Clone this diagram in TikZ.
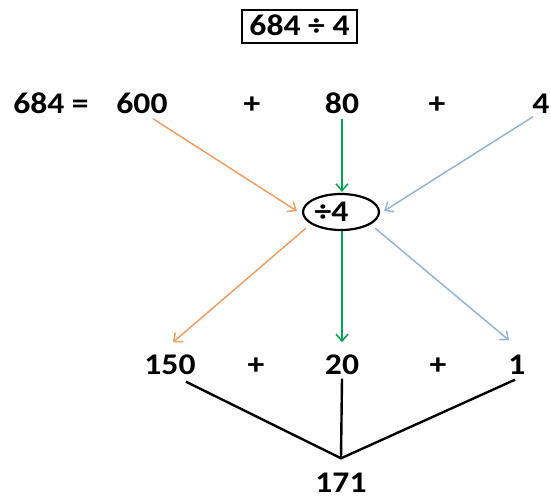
\documentclass[tikz,border=0pt]{standalone}
\usepackage{fontspec}
\newfontfamily\cf{Carlito}[FakeStretch=1.12]
\usetikzlibrary{shapes.geometric,arrows.meta}
\definecolor{arrO}{RGB}{240,158,98}
\definecolor{arrG}{RGB}{0,168,80}
\definecolor{arrB}{RGB}{149,180,215}
\begin{document}
\begin{tikzpicture}[x=1pt,y=-1pt,
  num/.style={font=\cf\bfseries\fontsize{30}{32}\selectfont, inner sep=0pt, text height=19pt, text depth=0pt, anchor=center},
  tip/.style={-{Straight Barb[length=7pt,width=12pt,line width=1.5pt]}, line width=1.5pt},
  oarr/.style={tip, draw=arrO},
  garr/.style={tip, draw=arrG},
  barr/.style={tip, draw=arrB},
  sumline/.style={line width=2.4pt, line join=miter}]
\useasboundingbox (0,0) rectangle (551,500);

% title
\node[num, draw, line width=2pt, minimum width=115pt, minimum height=33pt] (title) at (299.5,26.5) {684 ÷ 4};

% top row
\node[num] (eq) at (51,104) {684 =};
\node[num] (n600) at (142,104) {600};
\node[num] (p1) at (252,104) {+};
\node[num] (n80) at (342,104) {80};
\node[num] (p2) at (437,104) {+};
\node[num] (n4) at (541,104) {4};

% divisor
\node[num, ellipse, draw, line width=2.2pt, minimum width=76pt, minimum height=36pt] (ell) at (341,212) {\hspace*{-19pt}÷4};

% bottom row
\node[num] (n150) at (170,365) {150};
\node[num] (p3) at (256,365) {+};
\node[num] (n20) at (342,365) {20};
\node[num] (p4) at (438,365) {+};
\node[num] (n1) at (517,365) {1};
\node[num] (n171) at (341,483) {171};

% arrows into the divisor
\draw[oarr] ([shift={(11,5)}]n600.south) -- ([shift={(-5,-1)}]ell.west);
\draw[garr] ([shift={(0,5)}]n80.south) -- ([shift={(1,-1)}]ell.north);
\draw[barr] ([shift={(-8,3)}]n4.south) -- ([shift={(4,-1)}]ell.east);

% arrows out of the divisor
\draw[oarr] ([shift={(-35,-3)}]ell.south) -- ([shift={(3,-13)}]n150.north);
\draw[garr] ([shift={(1,0)}]ell.south) -- ([shift={(0,-13)}]n20.north);
\draw[barr] ([shift={(34,-3)}]ell.south) -- ([shift={(-8,-15)}]n1.north);

% sum lines
\draw[sumline] ([shift={(16,7)}]n150.south) -- ([shift={(0,-15)}]n171.north) -- ([shift={(-2,5)}]n1.south);
\draw[sumline] ([shift={(0,4)}]n20.south) -- ([shift={(0,-15)}]n171.north);
\end{tikzpicture}
\end{document}
